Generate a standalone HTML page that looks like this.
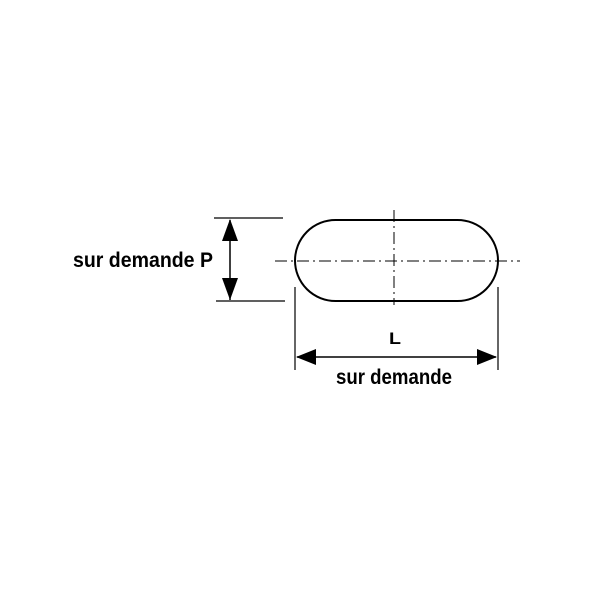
<!DOCTYPE html>
<html><head><style>body{margin:0;background:#fff}svg{display:block}</style></head><body>
<svg width="600" height="600" viewBox="0 0 600 600" xmlns="http://www.w3.org/2000/svg">
<rect width="600" height="600" fill="#fff"/>
<g stroke="#000" fill="none">
<rect x="295" y="220" width="203" height="81" rx="40.5" ry="40.5" stroke-width="2"/>
<line x1="275" y1="261" x2="520" y2="261" stroke-width="1" stroke-dasharray="12,4,2,4"/>
<line x1="394" y1="210" x2="394" y2="305" stroke-width="1" stroke-dasharray="12,4,2,4"/>
<line x1="214" y1="218" x2="283" y2="218" stroke-width="1.2"/>
<line x1="216" y1="301" x2="285" y2="301" stroke-width="1.2"/>
<line x1="230" y1="220" x2="230" y2="300" stroke-width="1.5"/>
<line x1="295" y1="287" x2="295" y2="370" stroke-width="1.2"/>
<line x1="498" y1="287" x2="498" y2="370" stroke-width="1.2"/>
<line x1="297" y1="357" x2="496" y2="357" stroke-width="1.5"/>
</g>
<g fill="#000">
<polygon points="230,219 222,241 238,241"/>
<polygon points="230,300 222,278 238,278"/>
<polygon points="296,357 316,349 316,365"/>
<polygon points="497,357 477,349 477,365"/>
</g>
<g font-family="Liberation Sans, sans-serif" font-weight="bold" font-size="21" fill="#000">
<text x="73" y="267" textLength="140" lengthAdjust="spacingAndGlyphs">sur demande  P</text>
<text x="336" y="384" textLength="116" lengthAdjust="spacingAndGlyphs">sur demande</text>
<text x="389" y="344" font-size="17" textLength="12" lengthAdjust="spacingAndGlyphs">L</text>
</g>
</svg>
</body></html>
